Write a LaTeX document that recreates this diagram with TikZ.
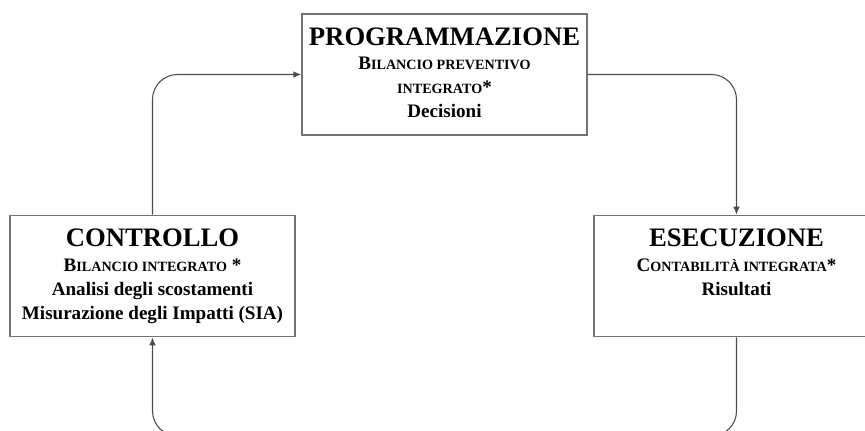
\documentclass[tikz,border=0pt]{standalone}
\usepackage{fontspec}
\setmainfont{Liberation Serif}
\usepackage{tikz}
\usetikzlibrary{arrows.meta, positioning}
\newcommand{\smc}[1]{{\fontsize{10.6}{18}\selectfont #1}}
\newcommand{\ttl}[1]{{\fontsize{20}{24}\selectfont #1}}
\tikzset{
    phasebox/.style={draw=black!55, line width=1.1pt, minimum width=213.75pt, minimum height=91pt, inner sep=0pt},
    phasetext/.style={align=center, inner sep=0pt, font=\fontsize{14.3}{18}\selectfont\bfseries},
    cycleline/.style={draw=black!70, line width=0.8pt, rounded corners=18.75pt, -{Latex[length=6pt, width=5pt]}}
}

\begin{document}
\begin{tikzpicture}[x=0.75pt, y=-0.75pt]
    \clip (0,0) rectangle (865,430);
    \fill[white] (0,0) rectangle (865,430);
    \node[phasebox] (prog) at (444.5,74.5) {};
    \node[phasebox] (cont) at (152.5,276) {};
    \node[phasebox] (esec) at (736.5,276) {};
    \node[phasetext, below=10.5pt of prog.north] (progtext)
        {\ttl{PROGRAMMAZIONE}\\[0.5pt] B\smc{ILANCIO PREVENTIVO}\\ \smc{INTEGRATO}*\\ Decisioni};
    \node[phasetext, below=10.5pt of cont.north] (conttext)
        {\ttl{CONTROLLO}\\[0.5pt] B\smc{ILANCIO INTEGRATO} *\\ Analisi degli scostamenti\\ Misurazione degli Impatti (SIA)};
    \node[phasetext, below=10.5pt of esec.north] (esectext)
        {\ttl{ESECUZIONE}\\[0.5pt] C\smc{ONTABILITÀ INTEGRATA}*\\ Risultati};
    \coordinate (loopbot) at (444.5,436);
    \draw[cycleline] (cont.north) |- (prog.west);
    \draw[cycleline] (prog.east) -| (esec.north);
    \draw[cycleline] (esec.south) |- (loopbot) -| (cont.south);
\end{tikzpicture}
\end{document}
